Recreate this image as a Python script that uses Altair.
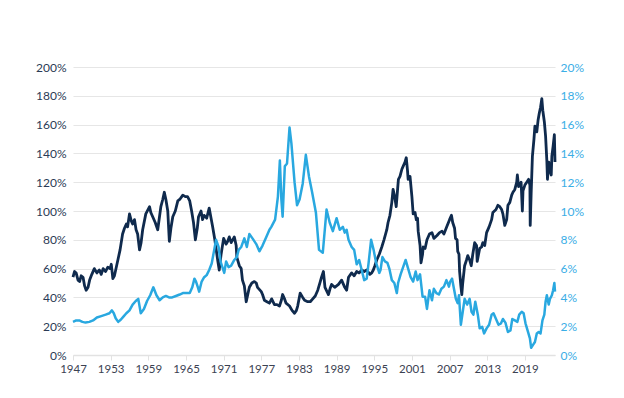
import altair as alt
import pandas as pd

# Left series (dark navy), percent
navy_year = [1947.0, 1947.25, 1947.5, 1947.8, 1948.05, 1948.3, 1948.6, 1948.85, 1949.1, 1949.4, 1949.65,
             1950.0, 1950.4, 1950.8, 1951.2, 1951.5, 1951.8, 1952.2, 1952.55, 1952.9, 1953.1, 1953.35, 1953.6,
             1954.15, 1954.5, 1954.9, 1955.2, 1955.5, 1955.7, 1956.0, 1956.3, 1956.5, 1956.8, 1957.05, 1957.3,
             1957.6, 1957.85, 1958.1, 1958.6, 1959.2, 1959.4, 1959.7, 1960.1, 1960.5, 1960.75, 1961.0, 1961.3,
             1961.55, 1961.8, 1962.1, 1962.35, 1962.6, 1962.9, 1963.3, 1963.7, 1964.0, 1964.5, 1964.9, 1965.25,
             1965.6, 1965.9, 1966.2, 1966.5, 1966.8, 1967.0, 1967.4, 1967.65, 1967.9, 1968.3, 1968.7, 1969.0,
             1969.25, 1969.6, 1970.05, 1970.3, 1970.6, 1971.0, 1971.4, 1971.65, 1971.9, 1972.2, 1972.45, 1972.7,
             1973.0, 1973.1, 1973.5, 1973.8, 1974.0, 1974.3, 1974.6, 1974.85, 1975.1, 1975.5, 1975.9, 1976.2,
             1976.4, 1977.0, 1977.2, 1977.5, 1977.9, 1978.3, 1978.65, 1979.1, 1979.5, 1979.9, 1980.2, 1980.4,
             1980.7, 1980.95, 1981.5, 1981.9, 1982.3, 1982.6, 1982.8, 1983.2, 1983.6, 1983.9, 1984.4, 1984.8,
             1985.2, 1985.6, 1986.0, 1986.4, 1986.6, 1986.9, 1987.15, 1987.7, 1987.95, 1988.2, 1988.7, 1989.3,
             1989.8, 1990.3, 1990.6, 1990.9, 1991.4, 1991.8, 1992.2, 1992.6, 1993.0, 1993.4, 1993.8, 1994.3,
             1994.6, 1994.85, 1995.1, 1995.4, 1995.8, 1996.2, 1996.55, 1997.0, 1997.2, 1997.5, 1997.8, 1998.0,
             1998.25, 1998.5, 1998.7, 1998.85, 1999.1, 1999.4, 1999.6, 1999.9, 2000.1, 2000.3, 2000.4, 2000.7,
             2001.0, 2001.2, 2001.5, 2001.7, 2001.9, 2002.0, 2002.3, 2002.45, 2002.7, 2002.8, 2003.1, 2003.4,
             2003.8, 2004.2, 2004.5, 2005.0, 2005.4, 2005.8, 2006.1, 2006.55, 2007.0, 2007.3, 2007.5, 2007.8,
             2007.95, 2008.2, 2008.3, 2008.5, 2008.6, 2008.8, 2008.95, 2009.1, 2009.4, 2009.7, 2009.9, 2010.2,
             2010.45, 2010.7, 2011.0, 2011.3, 2011.4, 2011.8, 2012.1, 2012.3, 2012.6, 2012.9, 2013.3, 2013.7,
             2013.9, 2014.4, 2014.7, 2015.0, 2015.3, 2015.5, 2015.8, 2016.1, 2016.3, 2016.6, 2016.9, 2017.1,
             2017.4, 2017.7, 2017.8, 2018.0, 2018.2, 2018.4, 2018.6, 2018.7, 2019.0, 2019.3, 2019.6, 2019.8,
             2019.85, 2020.0, 2020.2, 2020.45, 2020.6, 2020.9, 2021.1, 2021.3, 2021.5, 2021.7, 2021.85, 2022.1,
             2022.3, 2022.5, 2022.6, 2022.8, 2023.0, 2023.2, 2023.3, 2023.5, 2023.7, 2023.8]
navy_val = [54, 58, 57, 52, 51, 55, 54, 48, 45, 47, 52,
            56, 60, 57, 59, 56, 60, 58, 61, 60, 63, 53, 55,
            66, 73, 84, 88, 91, 89, 98, 93, 91, 94, 87, 84,
            73, 78, 87, 98, 103, 99, 96, 92, 87, 95, 103, 108,
            113, 108, 100, 79, 88, 96, 100, 107, 108, 111, 110, 110,
            107, 100, 92, 80, 88, 96, 100, 94, 97, 95, 102, 95,
            89, 80, 66, 59, 70, 81, 77, 79, 82, 78, 80, 82,
            76, 68, 62, 60, 52, 48, 37, 42, 47, 50, 51, 50,
            47, 44, 42, 38, 37, 36, 39, 35, 35, 34, 38, 42,
            39, 36, 34, 31, 29, 31, 34, 43, 40, 38, 37, 37,
            39, 41, 45, 51, 54, 58, 47, 42, 46, 49, 47, 49,
            52, 47, 45, 54, 57, 55, 58, 57, 59, 58, 59, 56,
            57, 59, 62, 66, 70, 75, 80, 87, 92, 97, 106, 115,
            110, 103, 114, 122, 124, 129, 131, 134, 137, 128, 122, 124,
            110, 98, 99, 94, 95, 86, 76, 64, 70, 75, 74, 80,
            84, 85, 81, 83, 85, 86, 84, 89, 94, 97, 92, 88,
            81, 80, 72, 70, 58, 48, 42, 50, 62, 66, 69, 66,
            62, 70, 78, 76, 65, 74, 75, 78, 76, 85, 89, 94,
            99, 101, 104, 103, 101, 98, 90, 94, 104, 106, 111, 113,
            115, 120, 125, 117, 118, 120, 100, 114, 118, 120, 122, 118,
            90, 112, 138, 150, 159, 155, 163, 168, 172, 178, 170, 162,
            152, 135, 122, 134, 128, 125, 138, 145, 153, 134]

# Right series (light blue), percent
blue_year = [1947.0, 1947.5, 1948.0, 1948.5, 1949.0, 1949.6, 1950.2, 1950.8, 1951.5, 1952.2, 1952.8,
             1953.2, 1953.5, 1953.8, 1954.2, 1954.6, 1955.0, 1955.5, 1956.0, 1956.5, 1957.0, 1957.4,
             1957.8, 1958.3, 1958.8, 1959.3, 1959.8, 1960.3, 1960.8, 1961.3, 1961.8, 1962.3, 1962.8,
             1963.4, 1964.0, 1964.5, 1965.0, 1965.6, 1966.0, 1966.35, 1966.6, 1966.9, 1967.1, 1967.5,
             1967.9, 1968.3, 1968.7, 1969.1, 1969.5, 1969.8, 1970.2, 1970.5, 1970.8, 1971.1, 1971.4,
             1971.8, 1972.2, 1972.7, 1973.1, 1973.4, 1973.8, 1974.3, 1974.7, 1975.1, 1975.6, 1976.2,
             1976.7, 1977.2, 1977.8, 1978.3, 1978.6, 1979.2, 1979.65, 1979.96, 1980.2, 1980.4, 1980.75,
             1981.1, 1981.5, 1981.8, 1982.3, 1982.7, 1983.1, 1983.6, 1984.1, 1984.6, 1985.1, 1985.7,
             1986.2, 1986.8, 1987.4, 1987.9, 1988.4, 1989.0, 1989.5, 1990.0, 1990.3, 1990.6, 1990.9,
             1991.4, 1991.8, 1992.2, 1992.6, 1993.0, 1993.4, 1993.8, 1994.1, 1994.5, 1994.9, 1995.3,
             1995.8, 1996.0, 1996.3, 1996.7, 1997.1, 1997.4, 1997.8, 1998.2, 1998.6, 1998.8, 1999.2,
             1999.6, 2000.0, 2000.4, 2000.8, 2001.2, 2001.6, 2001.9, 2002.3, 2002.7, 2003.1, 2003.4,
             2003.8, 2004.2, 2004.5, 2004.9, 2005.3, 2005.7, 2006.1, 2006.5, 2006.9, 2007.1, 2007.4,
             2007.7, 2008.0, 2008.3, 2008.5, 2008.8, 2009.1, 2009.4, 2009.8, 2010.2, 2010.5, 2010.8,
             2011.1, 2011.5, 2011.8, 2012.2, 2012.5, 2012.9, 2013.3, 2013.7, 2014.0, 2014.4, 2014.8,
             2015.2, 2015.5, 2015.9, 2016.3, 2016.7, 2017.0, 2017.4, 2017.8, 2018.1, 2018.5, 2018.8,
             2019.1, 2019.5, 2019.8, 2020.0, 2020.3, 2020.6, 2020.9, 2021.2, 2021.5, 2021.8, 2022.1,
             2022.3, 2022.5, 2022.8, 2023.0, 2023.3, 2023.5, 2023.7, 2023.8]
blue_val = [2.3, 2.4, 2.4, 2.3, 2.25, 2.3, 2.4, 2.6, 2.7, 2.8, 2.9,
            3.1, 2.9, 2.55, 2.3, 2.45, 2.65, 2.9, 3.1, 3.5, 3.75, 3.9,
            2.9, 3.2, 3.75, 4.15, 4.7, 4.15, 3.8, 4.0, 4.1, 4.0, 4.0,
            4.1, 4.2, 4.3, 4.3, 4.3, 4.7, 5.3, 5.1, 4.7, 4.4, 5.1,
            5.4, 5.55, 5.9, 6.35, 7.3, 8.0, 7.5, 6.5, 6.1, 5.7, 6.5,
            6.1, 6.2, 6.6, 6.8, 7.3, 7.5, 8.1, 7.5, 8.4, 8.1, 7.7,
            7.2, 7.6, 8.2, 8.7, 8.9, 9.4, 11.0, 13.5, 10.8, 9.6, 13.1,
            13.3, 15.8, 14.7, 12.0, 10.4, 10.8, 11.9, 13.9, 12.4, 11.3, 9.9,
            7.3, 7.1, 10.1, 9.2, 8.6, 9.5, 8.7, 8.9, 8.5, 8.7, 8.0,
            7.5, 7.3, 6.3, 6.6, 5.9, 5.2, 5.3, 6.4, 8.0, 7.3, 6.4,
            5.7, 5.9, 6.8, 6.5, 6.4, 6.0, 5.2, 5.0, 4.3, 5.0, 5.6,
            6.1, 6.6, 6.0, 5.4, 5.1, 5.8, 5.2, 5.6, 4.05, 4.05, 3.2,
            4.5, 3.8, 4.6, 4.3, 4.2, 4.6, 4.75, 5.2, 4.75, 5.1, 5.3,
            4.6, 3.9, 3.6, 4.15, 2.1, 3.0, 3.9, 3.5, 3.9, 3.0, 2.8,
            3.7, 2.8, 1.85, 1.95, 1.5, 1.85, 2.1, 2.8, 2.9, 2.5, 2.1,
            2.2, 2.5, 2.25, 1.6, 1.7, 2.5, 2.4, 2.3, 2.8, 3.0, 2.9,
            2.2, 1.6, 1.15, 0.5, 0.7, 0.9, 1.5, 1.6, 1.5, 2.4, 2.8,
            3.7, 4.15, 3.5, 3.9, 4.15, 4.5, 5.0, 4.4]

tick_years = [1947, 1953, 1959, 1965, 1971, 1977, 1983, 1989, 1995, 2001, 2007, 2013, 2019]
left_ticks = [0, 20, 40, 60, 80, 100, 120, 140, 160, 180, 200]
right_ticks = [0, 2, 4, 6, 8, 10, 12, 14, 16, 18, 20]

navy_df = pd.DataFrame({"year": navy_year, "v": navy_val})
blue_df = pd.DataFrame({"year": blue_year, "r": blue_val})

FONT = "Lato"
NAVY = "#0f2a4d"
BLUE = "#29a8e0"

x_enc = alt.X(
    "year:Q",
    scale=alt.Scale(domain=[1947, 2023.8], nice=False, zero=False),
    axis=alt.Axis(values=tick_years, format="d", grid=False, title=None,
                  domainColor="#e2e2e2", domainWidth=1.5, tickColor="#e2e2e2", tickSize=5,
                  labelOverlap=False, labelFlush=False, labelBound=False,
                  labelColor="#3b4252", labelFont=FONT, labelFontSize=11.5, labelPadding=3),
)

navy = alt.Chart(navy_df).mark_line(color=NAVY, strokeWidth=2.8, strokeJoin="round").encode(
    x=x_enc,
    y=alt.Y("v:Q", scale=alt.Scale(domain=[0, 200], nice=False),
            axis=alt.Axis(values=left_ticks, labelExpr="datum.value + '%'", orient="left",
                          grid=True, gridColor="#e6e6e6", gridWidth=1.2, domain=False, ticks=False,
                          labelOverlap=False,
                          title=None, labelColor="#2b3a55", labelFont=FONT, labelFontSize=12,
                          labelPadding=7)),
)

blue = alt.Chart(blue_df).mark_line(color=BLUE, strokeWidth=2.5, strokeJoin="round").encode(
    x=x_enc,
    y=alt.Y("r:Q", scale=alt.Scale(domain=[0, 20], nice=False),
            axis=alt.Axis(values=right_ticks, labelExpr="datum.value + '%'", orient="right",
                          grid=False, domain=False, ticks=False, title=None, labelOverlap=False,
                          labelColor="#3aaee6", labelFont=FONT, labelFontSize=12, labelPadding=5)),
)

chart = (
    alt.layer(navy, blue)
    .resolve_scale(y="independent")
    .properties(width=482, height=288,
                autosize=alt.AutoSizeParams(type="none"),
                padding={"left": 65, "top": 59, "right": 61, "bottom": 35})
    .configure_view(stroke=None)
)

chart.save("out.html", embed_options={"renderer": "svg", "actions": False})
